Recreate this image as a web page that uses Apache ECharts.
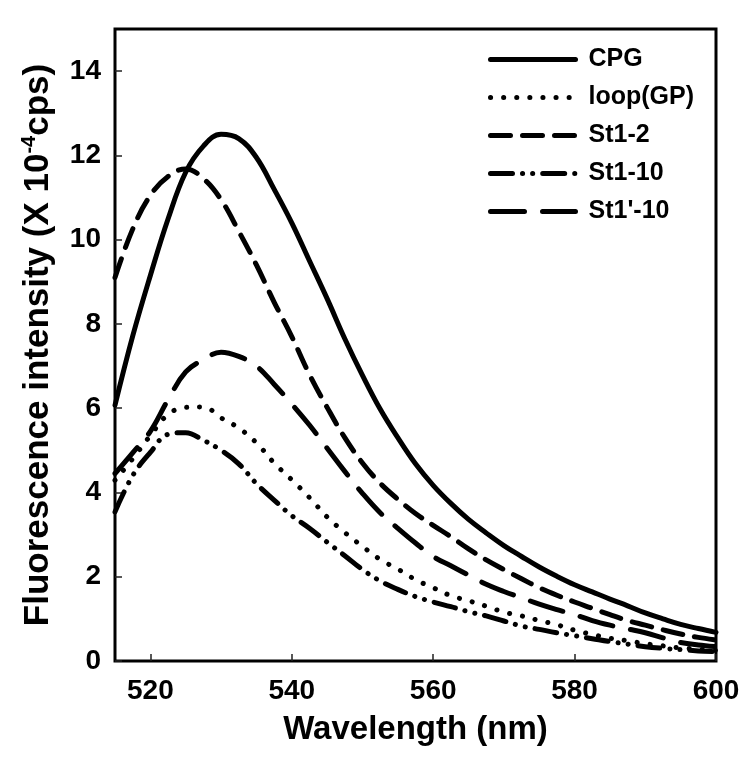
<!DOCTYPE html>
<html>
<head>
<meta charset="utf-8">
<script src="https://cdn.jsdelivr.net/npm/echarts@6/dist/echarts.min.js"></script>
<style>html,body{margin:0;padding:0;background:#fff}#c{width:750px;height:760px}</style>
</head>
<body>
<div id="c"></div>
<script>
// wavelength grid (nm)
const wavelengths = [515, 517.5, 520, 522.5, 525, 527.5, 530, 532.5, 535, 537.5, 540, 542.5, 545, 547.5, 550, 552.5, 555, 557.5, 560, 562.5, 565, 567.5, 570, 572.5, 575, 577.5, 580, 582.5, 585, 587.5, 590, 592.5, 595, 597.5, 600];
const seriesNames = ['CPG', 'loop(GP)', 'St1-2', 'St1-10', "St1'-10"];
const cpg   = [6.07, 7.71, 9.15, 10.49, 11.6, 12.22, 12.5, 12.4, 11.95, 11.2, 10.4, 9.5, 8.6, 7.65, 6.78, 5.98, 5.3, 4.68, 4.17, 3.74, 3.36, 3.04, 2.74, 2.48, 2.23, 2.01, 1.81, 1.64, 1.47, 1.31, 1.14, 1.0, 0.87, 0.77, 0.68];
const loopGP = [4.29, 4.8, 5.35, 5.85, 6.02, 6.03, 5.77, 5.53, 5.18, 4.7, 4.3, 3.88, 3.42, 3.05, 2.72, 2.41, 2.18, 1.93, 1.74, 1.55, 1.43, 1.3, 1.16, 1.07, 0.96, 0.86, 0.73, 0.63, 0.54, 0.48, 0.41, 0.36, 0.31, 0.28, 0.25];
const st1_2 = [9.1, 10.25, 11.05, 11.5, 11.68, 11.45, 10.95, 10.2, 9.4, 8.52, 7.7, 6.8, 6.02, 5.3, 4.7, 4.22, 3.84, 3.5, 3.22, 2.95, 2.66, 2.4, 2.17, 1.95, 1.74, 1.56, 1.4, 1.25, 1.1, 0.96, 0.85, 0.74, 0.64, 0.56, 0.5];
const st1_10 = [3.54, 4.4, 4.95, 5.38, 5.42, 5.24, 5.0, 4.68, 4.21, 3.82, 3.45, 3.15, 2.82, 2.5, 2.17, 1.9, 1.7, 1.53, 1.4, 1.29, 1.17, 1.07, 0.95, 0.83, 0.75, 0.67, 0.6, 0.53, 0.46, 0.4, 0.34, 0.3, 0.27, 0.24, 0.22];
const st1p_10 = [4.45, 4.94, 5.45, 6.2, 6.86, 7.15, 7.33, 7.23, 7.0, 6.57, 6.1, 5.6, 5.05, 4.5, 3.98, 3.52, 3.15, 2.8, 2.48, 2.26, 2.04, 1.82, 1.65, 1.5, 1.35, 1.22, 1.1, 0.96, 0.85, 0.76, 0.67, 0.55, 0.44, 0.38, 0.34];
const xTicks = [520, 540, 560, 580, 600];
const yTicks = [0, 2, 4, 6, 8, 10, 12, 14];

const values = [cpg, loopGP, st1_2, st1_10, st1p_10];
const dashes = ['solid', [0.1, 13], [20, 12], [22, 10, 0.1, 10, 0.1, 10], [34, 18]];
const FONT = "'Liberation Sans', Arial, sans-serif";

const chart = echarts.init(document.getElementById('c'), null, {renderer: 'canvas'});
chart.setOption({
  animation: false,
  backgroundColor: '#fff',
  grid: {left: 115, right: 34, top: 29, bottom: 99, show: true, borderColor: '#000', borderWidth: 3, containLabel: false},
  legend: {
    orient: 'vertical', left: 483, top: 42, itemWidth: 85, itemHeight: 14, itemGap: 13,
    data: seriesNames,
    itemStyle: {opacity: 0},
    lineStyle: {width: 5, color: '#000', cap: 'round'},
    textStyle: {fontFamily: FONT, fontWeight: 'bold', fontSize: 25, color: '#000', padding: [0, 0, 0, 8]}
  },
  xAxis: {
    type: 'value', min: 515, max: 600,
    name: 'Wavelength (nm)', nameLocation: 'middle', nameGap: 52,
    nameTextStyle: {fontFamily: FONT, fontWeight: 'bold', fontSize: 33, color: '#000'},
    axisLine: {show: false},
    axisTick: {show: true, inside: true, length: 7, lineStyle: {color: '#222', width: 1.5}, customValues: xTicks},
    axisLabel: {fontFamily: FONT, fontWeight: 'bold', fontSize: 28, color: '#000', margin: 16, customValues: xTicks},
    splitLine: {show: false}
  },
  yAxis: {
    type: 'value', min: 0, max: 15,
    name: '{a|Fluorescence intensity (X 10}{s|-4}{a|cps)}', nameLocation: 'middle', nameGap: 58,
    nameTextStyle: {
      fontFamily: FONT, fontWeight: 'bold', fontSize: 35, color: '#000',
      rich: {
        a: {fontFamily: FONT, fontWeight: 'bold', fontSize: 35, color: '#000', lineHeight: 38},
        s: {fontFamily: FONT, fontWeight: 'bold', fontSize: 20, color: '#000', verticalAlign: 'top', lineHeight: 38}
      }
    },
    axisLine: {show: false},
    axisTick: {show: true, inside: true, length: 7, lineStyle: {color: '#222', width: 1.5}, customValues: yTicks},
    axisLabel: {fontFamily: FONT, fontWeight: 'bold', fontSize: 28, color: '#000', margin: 14, customValues: yTicks},
    splitLine: {show: false}
  },
  series: seriesNames.map((n, k) => ({
    name: n, type: 'line', smooth: 0.4, symbol: 'none', showSymbol: false,
    data: wavelengths.map((w, i) => [w, values[k][i]]),
    lineStyle: {color: '#000', width: 5, type: dashes[k], cap: 'round', join: 'round'},
    itemStyle: {color: '#000'},
    clip: true
  }))
});
</script>
</body>
</html>
